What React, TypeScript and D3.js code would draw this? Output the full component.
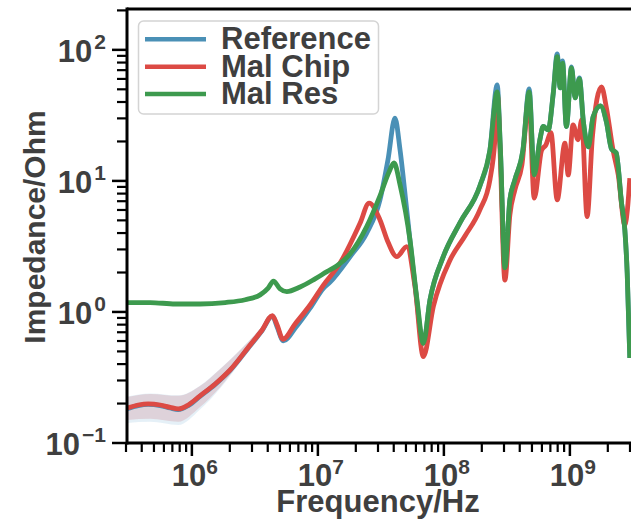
import * as React from "react";
import * as d3 from "d3";

// Impedance sweeps (Hz, Ohm)
const refFreq = [3.07e5, 3.75e5, 4.5e5, 5.61e5, 6.73e5, 7.79e5, 9.35e5, 1.16e6, 1.53e6, 2.01e6, 2.9e6, 3.61e6, 4.35e6, 4.75e6, 5.32e6, 6.71e6, 8.67e6, 1.11e7, 1.25e7, 1.8e7, 2.44e7, 3.11e7, 3.6e7, 4.09e7, 4.49e7, 5.07e7, 5.9e7, 6.87e7, 7.76e7, 9.89e7, 1.34e8, 1.93e8, 2.32e8, 2.65e8, 2.81e8, 3.05e8, 3.34e8, 3.66e8, 4.24e8, 4.75e8, 5.21e8, 5.78e8, 6.14e8, 6.73e8, 7.38e8, 7.93e8, 8.38e8, 8.75e8, 9.38e8, 1.03e9, 1.1e9, 1.19e9, 1.28e9, 1.4e9, 1.53e9, 1.75e9, 1.95e9, 2.14e9, 2.33e9, 2.57e9, 2.73e9, 2.85e9, 2.99e9];
const refZ = [0.183, 0.193, 0.197, 0.193, 0.185, 0.18, 0.193, 0.227, 0.28, 0.358, 0.555, 0.722, 0.93, 0.768, 0.601, 0.768, 1.07, 1.52, 1.69, 2.64, 3.99, 7.16, 14.5, 30.1, 17.2, 6.01, 1.61, 0.577, 1.24, 2.64, 4.78, 9.16, 17.2, 54.1, 17.2, 2.17, 7.16, 10.2, 17.2, 50.4, 11.1, 20.6, 26.0, 24.5, 46.7, 93.2, 51.3, 82.4, 26.0, 74.0, 43.0, 61.0, 28.2, 18.2, 30.8, 37.4, 28.2, 17.5, 16.4, 6.79, 4.23, 1.99, 0.446];

const chipFreq = [3.07e5, 3.75e5, 4.5e5, 5.61e5, 6.73e5, 7.79e5, 9.35e5, 1.16e6, 1.53e6, 2.01e6, 2.9e6, 3.61e6, 4.35e6, 4.75e6, 5.27e6, 6.59e6, 8.67e6, 1.11e7, 1.5e7, 2.16e7, 2.55e7, 3.11e7, 3.6e7, 4.23e7, 5.07e7, 5.9e7, 6.87e7, 8.25e7, 1.12e8, 1.47e8, 1.93e8, 2.32e8, 2.54e8, 2.66e8, 2.79e8, 3.05e8, 3.34e8, 3.66e8, 4.16e8, 4.73e8, 5.21e8, 5.97e8, 6.45e8, 7.07e8, 7.93e8, 9.13e8, 9.7e8, 1.06e9, 1.16e9, 1.24e9, 1.37e9, 1.51e9, 1.78e9, 1.95e9, 2.2e9, 2.42e9, 2.73e9, 2.86e9, 2.99e9];
const chipZ = [0.185, 0.195, 0.199, 0.195, 0.187, 0.182, 0.195, 0.229, 0.282, 0.361, 0.56, 0.729, 0.937, 0.796, 0.619, 0.81, 1.13, 1.61, 2.36, 4.75, 6.76, 5.04, 3.42, 2.64, 3.15, 1.56, 0.456, 1.1, 2.49, 3.8, 6.01, 10.2, 20.6, 45.3, 17.2, 1.75, 5.5, 8.54, 13.2, 41.5, 7.38, 17.2, 18.8, 23.3, 7.16, 19.4, 11.1, 26.8, 20.6, 29.2, 5.34, 21.8, 52.2, 36.1, 17.2, 11.1, 4.61, 6.01, 10.5];

const resFreq = [3.07e5, 4.67e5, 7.38e5, 1.16e6, 1.84e6, 2.65e6, 3.48e6, 4.03e6, 4.44e6, 5.01e6, 5.66e6, 7.22e6, 9.5e6, 1.18e7, 1.41e7, 1.8e7, 2.44e7, 3.11e7, 3.67e7, 4.02e7, 4.49e7, 5.38e7, 6.12e7, 6.87e7, 7.76e7, 9.89e7, 1.34e8, 1.93e8, 2.32e8, 2.65e8, 2.81e8, 3.05e8, 3.34e8, 3.66e8, 4.24e8, 4.75e8, 5.21e8, 5.78e8, 6.14e8, 6.73e8, 7.38e8, 7.93e8, 8.38e8, 8.75e8, 9.38e8, 1.03e9, 1.1e9, 1.19e9, 1.28e9, 1.4e9, 1.53e9, 1.75e9, 1.95e9, 2.14e9, 2.33e9, 2.57e9, 2.73e9, 2.85e9, 2.99e9];
const resZ = [1.18, 1.18, 1.15, 1.15, 1.18, 1.24, 1.35, 1.52, 1.72, 1.5, 1.43, 1.55, 1.79, 2.03, 2.24, 2.77, 4.48, 7.68, 11.7, 13.7, 9.32, 3.55, 1.24, 0.577, 1.24, 2.64, 4.78, 9.16, 17.2, 47.8, 17.2, 2.17, 7.16, 10.2, 17.2, 47.8, 11.1, 20.6, 26.0, 24.5, 46.7, 88.9, 51.3, 79.1, 26.0, 72.9, 43.0, 60.1, 28.2, 18.2, 30.8, 37.4, 28.2, 17.5, 16.4, 6.79, 4.23, 1.99, 0.446];

// spread band at low frequency
const bandFreq = [3.07e5, 4.67e5, 7.79e5, 1.16e6, 1.68e6, 2.42e6, 3.48e6];
const chipBandLow = [0.15, 0.153, 0.145, 0.188, 0.268, 0.415, 0.645];
const chipBandHigh = [0.224, 0.237, 0.229, 0.272, 0.367, 0.513, 0.742];
const refBandLow = [0.142, 0.145, 0.137, 0.18, 0.262, 0.41, 0.64];
const refBandHigh = [0.226, 0.239, 0.231, 0.274, 0.369, 0.515, 0.744];

const seriesNames = ["Reference", "Mal Chip", "Mal Res"];
const seriesColors = ["#4a90b6", "#dc4a44", "#3d9a4e"];

const xMajor = [1e6, 1e7, 1e8, 1e9];
const yMajor = [0.1, 1, 10, 100];

const W = 631;
const H = 523;
const left = 126;
const right = 630;
const top = 9;
const bottom = 443;
const font = "'Liberation Sans', Arial, sans-serif";
const textColor = "#3f3f3f";

const App = () => {
  const x = d3.scaleLog().domain([3e5, 3e9]).range([left, right]);
  const y = d3.scaleLog().domain([0.1, 205]).range([bottom, top]);

  const series = [
    { f: refFreq, z: refZ },
    { f: chipFreq, z: chipZ },
    { f: resFreq, z: resZ },
  ];

  const line = d3
    .line<[number, number]>()
    .x((d) => x(d[0]))
    .y((d) => y(d[1]))
    .curve(d3.curveMonotoneX);

  const band = (lo: number[], hi: number[]) =>
    d3
      .area<number>()
      .x((i) => x(bandFreq[i]))
      .y0((i) => y(lo[i]))
      .y1((i) => y(hi[i]))
      .curve(d3.curveMonotoneX)(bandFreq.map((_, i) => i));

  // minor ticks 2..9 in each decade
  const xMinor: number[] = [];
  for (let e = 5; e <= 9; e++)
    for (let m = 2; m <= 9; m++) {
      const v = m * Math.pow(10, e);
      if (v >= 3e5 && v <= 3e9 && x(v) <= W) xMinor.push(v);
    }
  const yMinor: number[] = [];
  for (let e = -1; e <= 2; e++)
    for (let m = 2; m <= 9; m++) {
      const v = m * Math.pow(10, e);
      if (v <= 205) yMinor.push(v);
    }

  const sup = (e: number) => (e < 0 ? "\u2212" + -e : String(e));

  return (
    <svg width={W} height={H} style={{ position: "absolute", left: 0, top: 0 }} fontFamily={font}>
      <rect width={W} height={H} fill="white" />
      <path d={band(refBandLow, refBandHigh) || ""} fill="#a9cde3" opacity={0.3} />
      <path d={band(chipBandLow, chipBandHigh) || ""} fill="#d4aeb6" opacity={0.45} />
      <g clipPath="url(#clip)">
        <clipPath id="clip">
          <rect x={left} y={top} width={W - left} height={bottom - top} />
        </clipPath>
        {series.map((s, i) => (
          <path
            key={i}
            d={line(s.f.map((f, j) => [f, s.z[j]] as [number, number])) || ""}
            fill="none"
            stroke={seriesColors[i]}
            strokeWidth={4.8}
            strokeLinejoin="round"
          />
        ))}
      </g>

      {/* spines */}
      <line x1={left + 1} x2={W} y1={top} y2={top} stroke="black" strokeWidth={3} />
      <line x1={left + 1} x2={left + 1} y1={top - 1.5} y2={bottom + 1.5} stroke="black" strokeWidth={3} />
      <line x1={left} x2={W} y1={bottom} y2={bottom} stroke="black" strokeWidth={3} />

      {/* x ticks */}
      {xMajor.map((v) => (
        <line key={"xM" + v} x1={x(v)} x2={x(v)} y1={bottom} y2={bottom + 13} stroke="black" strokeWidth={2.5} />
      ))}
      {xMinor.map((v) => (
        <line key={"xm" + v} x1={x(v)} x2={x(v)} y1={bottom} y2={bottom + 9} stroke="black" strokeWidth={2.2} />
      ))}
      {xMajor.map((v) => (
        <text key={"xl" + v} x={x(v) + 3} y={486} textAnchor="middle" fontSize={31} fontWeight="bold" fill={textColor}>
          10
          <tspan fontSize={21} dy={-12}>
            {sup(Math.round(Math.log10(v)))}
          </tspan>
        </text>
      ))}

      {/* y ticks */}
      {yMajor.map((v) => (
        <line key={"yM" + v} x1={left + 1} x2={left - 14} y1={y(v)} y2={y(v)} stroke="black" strokeWidth={2.5} />
      ))}
      {yMinor.map((v) => (
        <line key={"ym" + v} x1={left + 1} x2={left - 9} y1={y(v)} y2={y(v)} stroke="black" strokeWidth={2.2} />
      ))}
      {yMajor.map((v) => (
        <text key={"yl" + v} x={106} y={y(v) + 12} textAnchor="end" fontSize={31} fontWeight="bold" fill={textColor}>
          10
          <tspan fontSize={21} dy={-13} dx={2}>
            {sup(Math.round(Math.log10(v)))}
          </tspan>
        </text>
      ))}

      {/* axis labels */}
      <text x={378} y={512} textAnchor="middle" fontSize={31} fontWeight="bold" fill={textColor}>
        Frequency/Hz
      </text>
      <text transform="translate(45,227) rotate(-90)" textAnchor="middle" fontSize={30} fontWeight="bold" fill={textColor}>
        Impedance/Ohm
      </text>

      {/* legend */}
      <rect x={138.5} y={21} width={240} height={93} rx={5} fill="white" fillOpacity={0.8} stroke="#d4d4d4" strokeWidth={1.5} />
      {seriesNames.map((name, i) => (
        <g key={name} transform={`translate(0,${39.3 + i * 27.4})`}>
          <line x1={145} x2={206} y1={0} y2={0} stroke={seriesColors[i]} strokeWidth={4.5} />
          <text x={221} y={10} fontSize={31} fontWeight="bold" fill={textColor}>
            {name}
          </text>
        </g>
      ))}
    </svg>
  );
};

export default App;
